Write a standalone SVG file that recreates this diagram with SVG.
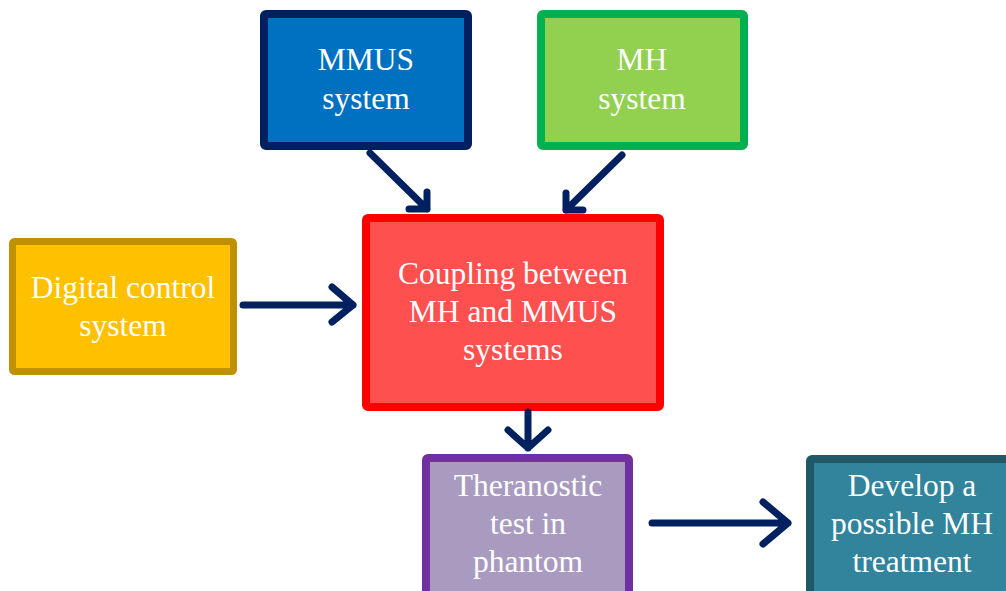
<svg xmlns="http://www.w3.org/2000/svg" width="1006" height="591" viewBox="0 0 1006 591">
  <style>
    .box { stroke-width: 8; }
    .lbl { font-family: "Liberation Serif", "Times New Roman", serif; font-size: 31.5px; fill: #ffffff; text-anchor: middle; }
    .conn { fill: none; stroke: #002060; stroke-width: 7; stroke-linecap: round; stroke-linejoin: round; }
  </style>
  <rect width="1006" height="591" fill="#ffffff"/>
  <g id="node-mmus">
    <rect class="box" x="264" y="14" width="204" height="132" rx="2" fill="#0070C0" stroke="#002060"/>
    <text class="lbl" x="366" y="70">MMUS</text>
    <text class="lbl" x="366" y="109">system</text>
  </g>
  <g id="node-mh">
    <rect class="box" x="541" y="14" width="203" height="132" rx="2" fill="#92D050" stroke="#00B050"/>
    <text class="lbl" x="642" y="70">MH</text>
    <text class="lbl" x="642" y="109">system</text>
  </g>
  <g id="node-coupling">
    <rect class="box" x="366" y="218" width="294" height="189" rx="2" fill="#FF5050" stroke="#FF0000"/>
    <text class="lbl" x="513" y="284">Coupling between</text>
    <text class="lbl" x="513" y="322">MH and MMUS</text>
    <text class="lbl" x="513" y="360">systems</text>
  </g>
  <g id="node-digital">
    <rect x="12.5" y="241.5" width="221" height="130" rx="2" fill="#FFC000" stroke="#BF9000" stroke-width="7"/>
    <text class="lbl" x="123" y="298">Digital control</text>
    <text class="lbl" x="123" y="336">system</text>
  </g>
  <g id="node-theranostic">
    <rect class="box" x="426" y="458" width="203" height="145" rx="2" fill="#A99BC0" stroke="#7030A0"/>
    <text class="lbl" x="528" y="496">Theranostic</text>
    <text class="lbl" x="528" y="534">test in</text>
    <text class="lbl" x="528" y="572">phantom</text>
  </g>
  <g id="node-develop">
    <rect class="box" x="810" y="459" width="205" height="145" rx="2" fill="#31849B" stroke="#215868"/>
    <text class="lbl" x="912" y="496">Develop a</text>
    <text class="lbl" x="912" y="534">possible MH</text>
    <text class="lbl" x="912" y="572">treatment</text>
  </g>
  <g id="connectors">
    <path class="conn" d="M370 153 L427 209 M427 192 L427 209 L409 209"/>
    <path class="conn" d="M622 155 L566 210 M566 193 L566 210 L583 210"/>
    <path class="conn" d="M243 305 L353 305 M332 287 L353 305 L332 322"/>
    <path class="conn" d="M528 412 L528 448 M508 430 L528 448 L548 430"/>
    <path class="conn" d="M652 523 L788 523 M763 502 L788 523 L763 544"/>
  </g>
</svg>
